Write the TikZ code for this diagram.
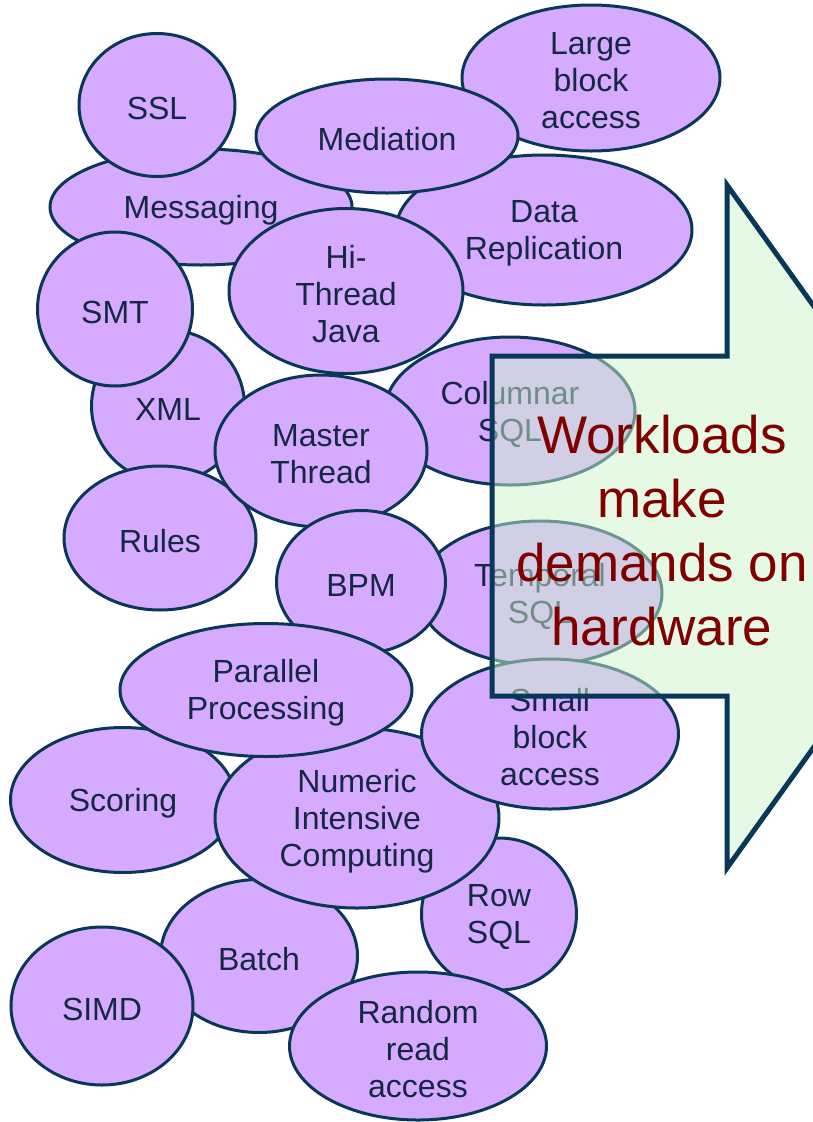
\documentclass[tikz,border=0pt]{standalone}
\usepackage{fontspec}
\setmainfont{Liberation Sans}
\usetikzlibrary{shapes.geometric}
\definecolor{bfill}{RGB}{214,170,255}
\definecolor{bline}{RGB}{10,55,85}
\definecolor{btext}{RGB}{20,40,70}
\definecolor{afill}{RGB}{205,245,205}
\definecolor{aline}{RGB}{8,55,90}
\definecolor{atext}{RGB}{128,0,0}
\begin{document}
\begin{tikzpicture}[x=1pt,y=-1pt,
  blob/.style={ellipse, draw=bline, line width=3pt, fill=bfill, inner sep=0pt},
  lbl/.style={text=btext, align=center, font=\fontsize{32}{37}\selectfont, inner sep=0pt, yshift=-3pt},
  bigarrow/.style={draw=aline, line width=5pt, fill=afill, fill opacity=0.5, line join=miter},
  bigtext/.style={text=atext, align=center, font=\fontsize{53}{64}\selectfont, inner sep=0pt}]
\useasboundingbox (0,0) rectangle (813,1122);
\clip (0,0) rectangle (813,1122);
\fill[white] (0,0) rectangle (813,1122);
% bottom to top
\node[blob, minimum width=258pt, minimum height=146pt, label={[lbl]center:Large\\block\\access}] (large) at (591,78) {};
\node[blob, minimum width=296pt, minimum height=150pt, label={[lbl]center:Data\\Replication}] (datarep) at (544,230) {};
\node[blob, minimum width=302pt, minimum height=116pt, label={[lbl]center:Messaging}] (msg) at (201,207) {};
\node[blob, minimum width=156pt, minimum height=143pt, label={[lbl]center:SSL}] (ssl) at (157,105) {};
\node[blob, minimum width=262pt, minimum height=114pt, label={[lbl]center:Mediation}] (med) at (387,136) {};
\node[blob, minimum width=153pt, minimum height=152pt, label={[lbl]center:XML}] (xml) at (168,406) {};
\node[blob, minimum width=155pt, minimum height=154pt, label={[lbl]center:SMT}] (smt) at (115,309) {};
\node[blob, minimum width=250pt, minimum height=148pt, label={[lbl]center:Columnar\\SQL}] (col) at (510,411) {};
\node[blob, minimum width=234pt, minimum height=165pt, label={[lbl]center:Hi-\\Thread\\Java}] (hithread) at (346,291) {};
\node[blob, minimum width=192pt, minimum height=144pt, label={[lbl]center:Rules}] (rules) at (160,538) {};
\node[blob, minimum width=212pt, minimum height=152pt, label={[lbl]center:Master\\Thread}] (master) at (321,451) {};
\node[blob, minimum width=244pt, minimum height=144pt, label={[lbl]center:Temporal\\SQL}] (temporal) at (540,593) {};
\node[blob, minimum width=169pt, minimum height=143pt, label={[lbl]center:BPM}] (bpm) at (361,582) {};
\node[blob, minimum width=225pt, minimum height=145pt, label={[lbl]center:Scoring}] (scoring) at (123,800) {};
\node[blob, minimum width=155pt, minimum height=152pt, label={[lbl]center:Row\\SQL}] (rowsql) at (499,914) {};
\node[blob, minimum width=197pt, minimum height=153pt, label={[lbl]center:Batch}] (batch) at (259,956) {};
\node[blob, minimum width=182pt, minimum height=158pt, label={[lbl]center:SIMD}] (simd) at (102,1006) {};
\node[blob, minimum width=284pt, minimum height=180pt, label={[lbl]center:Numeric\\Intensive\\Computing}] (numeric) at (357,818) {};
\node[blob, minimum width=257pt, minimum height=150pt, label={[lbl]center:Small\\block\\access}] (small) at (550,734) {};
\node[blob, minimum width=292pt, minimum height=133pt, label={[lbl]center:Parallel\\Processing}] (parallel) at (266,690) {};
\node[blob, minimum width=257pt, minimum height=148pt, label={[lbl]center:Random\\read\\access}] (random) at (418,1046) {};
% big arrow
\draw[bigarrow] (492,356) -- (727,356) -- (727,185) -- (972,527) -- (727,868) -- (727,696) -- (492,696) -- cycle;
\node[bigtext] (workloads) at (662,531) {Workloads\\make\\demands on\\hardware};
\end{tikzpicture}
\end{document}
